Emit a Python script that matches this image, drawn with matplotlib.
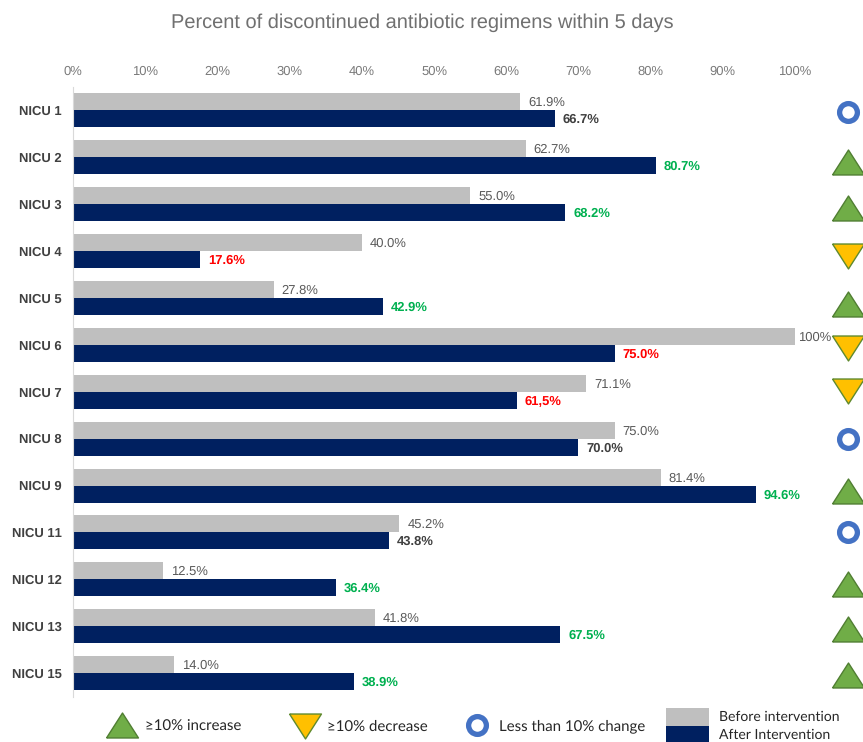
import matplotlib
matplotlib.use("Agg")
import matplotlib.pyplot as plt
from matplotlib.patches import Rectangle
from matplotlib.ticker import FuncFormatter

plt.rcParams['font.family'] = ['Liberation Sans', 'DejaVu Sans']
plt.rcParams['text.hinting'] = 'no_hinting'
plt.rcParams['text.hinting_factor'] = 1

units = ["NICU 1", "NICU 2", "NICU 3", "NICU 4", "NICU 5", "NICU 6", "NICU 7",
         "NICU 8", "NICU 9", "NICU 11", "NICU 12", "NICU 13", "NICU 15"]
before = [61.9, 62.7, 55.0, 40.0, 27.8, 100, 71.1, 75.0, 81.4, 45.2, 12.5, 41.8, 14.0]
after = [66.7, 80.7, 68.2, 17.6, 42.9, 75.0, 61.5, 70.0, 94.6, 43.8, 36.4, 67.5, 38.9]
before_labels = ["61.9%", "62.7%", "55.0%", "40.0%", "27.8%", "100%", "71.1%",
                 "75.0%", "81.4%", "45.2%", "12.5%", "41.8%", "14.0%"]
after_labels = ["66.7%", "80.7%", "68.2%", "17.6%", "42.9%", "75.0%", "61,5%",
                "70.0%", "94.6%", "43.8%", "36.4%", "67.5%", "38.9%"]
status = ["same", "up", "up", "down", "up", "down", "down",
          "same", "up", "same", "up", "up", "up"]

W, H = 863, 742
GRAY, NAVY, GREEN, RED, TXT = "#BFBFBF", "#002060", "#00B050", "#FF0000", "#595959"
label_col = {"up": GREEN, "down": RED, "same": "#404040"}

fig = plt.figure(figsize=(W / 100, H / 100), dpi=100)
L, R, T, B = 73, 795, 87, 696.5
ax = fig.add_axes([L / W, 1 - B / H, (R - L) / W, (B - T) / H])
ax.set_xlim(0, 100)
ax.set_ylim(len(units) - 0.5, -0.5)

bar_h = 17 / 46.9
ys = list(range(len(units)))
ax.barh([y - bar_h / 2 for y in ys], before, height=bar_h, color=GRAY)
ax.barh([y + bar_h / 2 for y in ys], after, height=bar_h, color=NAVY)

for y, b, a, bl, al, s in zip(ys, before, after, before_labels, after_labels, status):
    ax.annotate(bl, (b, y - bar_h / 2), xytext=(8 if b < 100 else 3, -1), textcoords="offset pixels",
                va="center", ha="left", fontsize=9, color=TXT, annotation_clip=False)
    ax.annotate(al, (a, y + bar_h / 2), xytext=(8, -1), textcoords="offset pixels",
                va="center", ha="left", fontsize=9.4, fontweight="bold", color=label_col[s],
                annotation_clip=False)

ax.set_yticks(ys, units)
ax.xaxis.tick_top()
ax.set_xticks(range(0, 101, 10))
ax.xaxis.set_major_formatter(FuncFormatter(lambda v, _: f"{v:.0f}%"))
ax.tick_params(axis="x", length=0, pad=6.6, labelsize=9, labelcolor="#7A7A7A")
ax.tick_params(axis="y", length=0, pad=8, labelsize=9, labelcolor="#404040")
for t in ax.get_yticklabels():
    t.set_fontweight("bold")
for sp in ["top", "right", "bottom"]:
    ax.spines[sp].set_visible(False)
ax.spines["left"].set_color("#D9D9D9")
ax.spines["left"].set_linewidth(0.8)

fig.text(422 / W, 1 - 23 / H, "Percent of discontinued antibiotic regimens within 5 days",
         ha="center", va="center", fontsize=14.2, color="#707070")

# Icon layout, in pixels of the picture
overlay = fig.add_axes([0, 0, 1, 1], facecolor="none")
overlay.set_xlim(0, W)
overlay.set_ylim(H, 0)
overlay.axis("off")

TRI_UP = [(-0.64, -0.5), (0.64, -0.5), (0, 0.5), (-0.64, -0.5)]
TRI_DOWN = [(x, -y) for x, y in TRI_UP]

def icon(kind, x, y):
    if kind == "up":
        overlay.plot([x], [y], marker=TRI_UP, ms=23, mfc="#70AD47", mec="#507E32", mew=1, clip_on=False)
    elif kind == "down":
        overlay.plot([x], [y], marker=TRI_DOWN, ms=23, mfc="#FFC000", mec="#5F8A2E", mew=1, clip_on=False)
    else:
        overlay.plot([x], [y], marker="o", ms=12.8, mfc="white", mec="#4472C4", mew=3.8, clip_on=False)

icon_y = [112, 162, 208, 256, 304, 348, 391, 439, 491, 532, 584, 629, 675]
icon_x = [848] * len(status)
for s, x, y in zip(status, icon_x, icon_y):
    icon(s, x, y)

icon("up", 122, 725)
icon("down", 305, 726)
icon("same", 477, 725)

LEG = dict(fontsize=11, va="center", ha="left", color="#262626", family=["Lato", "DejaVu Sans"])
overlay.text(145, 727, "≥10% increase", **LEG)
overlay.text(327, 727, "≥10% decrease", **LEG)
overlay.text(499, 726, "Less than 10% change", **LEG)
LEG2 = dict(LEG, fontsize=10)
overlay.text(719, 717, "Before intervention", **LEG2)
overlay.text(719, 735, "After Intervention", **LEG2)
overlay.add_patch(Rectangle((666, 708), 43, 18, color=GRAY, lw=0))
overlay.add_patch(Rectangle((666, 726), 43, 16, color=NAVY, lw=0))

fig.savefig("out.png", dpi=100)
